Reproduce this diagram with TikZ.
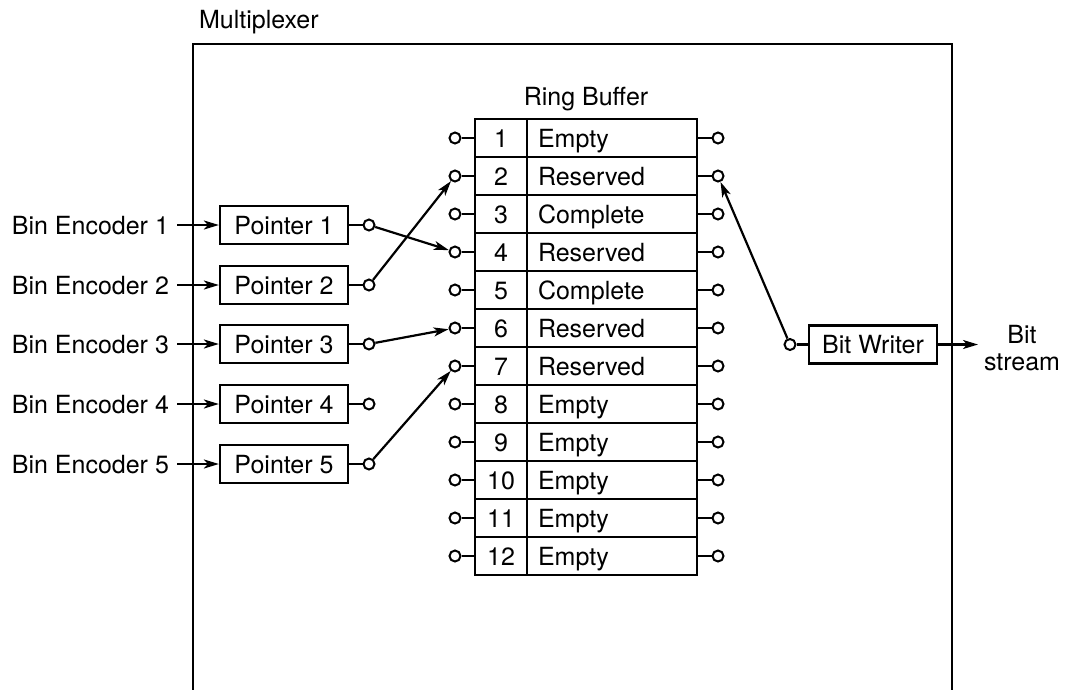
\documentclass[tikz,border=0pt]{standalone}
\usepackage{fontspec}
\setmainfont{TeX Gyre Heros}
\usetikzlibrary{arrows.meta}
\begin{document}
\begin{tikzpicture}[
  x=1pt, y=-1pt,
  line width=2.2pt,
  font=\fontsize{25}{27}\selectfont,
  txt/.style={text height=18pt, text depth=0pt},
  box/.style={txt, draw, minimum width=128pt, minimum height=38pt, inner sep=0pt},
  numcell/.style={txt, draw, minimum width=52pt, minimum height=38pt, inner sep=0pt},
  statecell/.style={txt, draw, minimum height=38pt, text width=148pt, align=left, inner xsep=11pt, inner ysep=0pt},
  port/.style={circle, draw, fill=white, minimum size=11pt, inner sep=0pt, line width=2pt},
  link/.style={-{Stealth[length=15pt,width=9pt,inset=4pt]}},
]
\useasboundingbox (0,0) rectangle (1065,689);

% multiplexer frame (open at the bottom)
\node[anchor=base west, inner sep=0pt] (mux) at (198,28) {Multiplexer};
\draw (193,692) -- (193,44) -- (952,44) -- (952,692);

% ring buffer
\node[anchor=base, inner sep=0pt] (rbt) at (586,105) {Ring Buffer};
\foreach \i/\s in {1/Empty,2/Reserved,3/Complete,4/Reserved,5/Complete,6/Reserved,
                   7/Reserved,8/Empty,9/Empty,10/Empty,11/Empty,12/Empty} {
  \pgfmathsetmacro{\ry}{138+38*(\i-1)}
  \node[numcell] (n\i) at (501,\ry) {\i};
  \node[statecell] (s\i) at (612,\ry) {\s};
  \node[port] (l\i) at (455,\ry) {};
  \node[port] (r\i) at (718,\ry) {};
  \draw (l\i) -- (n\i);
  \draw (s\i) -- (r\i);
}

% encoders and pointers
\foreach \i/\py in {1/225,2/285,3/344,4/404,5/464} {
  \node[txt, anchor=east, inner xsep=7pt, inner ysep=0pt] (e\i) at (177,\py) {Bin Encoder \i};
  \node[box] (p\i) at (284,\py) {Pointer \i};
  \node[port] (q\i) at (369,\py) {};
  \draw[link] (e\i) -- (p\i);
  \draw (p\i) -- (q\i);
}

% pointer targets
\draw[link] (q1) -- (l4);
\draw[link] (q2) -- (l2);
\draw[link] (q3) -- (l6);
\draw[link] (q5) -- (l7);

% bit writer
\node[box] (bw) at (873,344.5) {Bit Writer};
\node[port] (w) at (790,344.5) {};
\draw (w) -- (bw);
\draw[link] (w) -- (r2);
\coordinate (bsout) at (978,344.5);
\draw[link] (bw) -- (bsout);
\node[align=center, inner sep=0pt] (bs) at (1022,348) {Bit\\stream};
\end{tikzpicture}
\end{document}
